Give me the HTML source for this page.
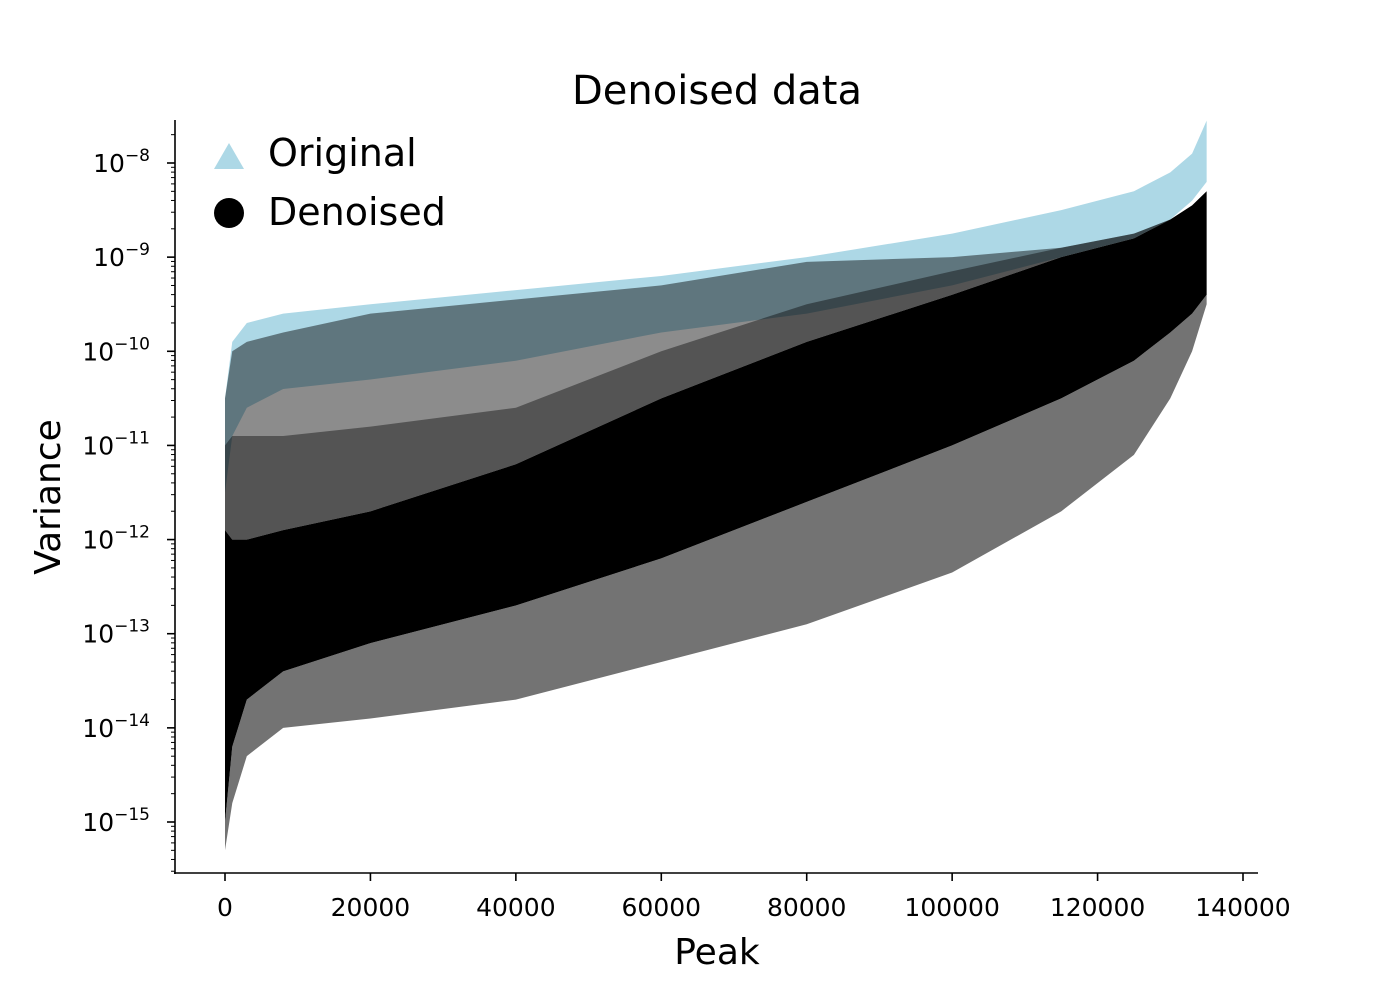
<!DOCTYPE html>
<html><head><meta charset="utf-8"><style>
body{margin:0;background:#fff}
svg{display:block;font-family:"DejaVu Sans","Liberation Sans",sans-serif}
</style></head><body>
<svg id="chart" width="1400" height="1000" viewBox="0 0 1400 1000">
<rect width="1400" height="1000" fill="#fff"/>
<g id="plot"></g>
<g id="axes"></g>
<text x="717" y="104" font-size="40" text-anchor="middle">Denoised data</text>
<text x="717" y="964" font-size="36" text-anchor="middle">Peak</text>
<text x="0" y="0" font-size="36" text-anchor="middle" transform="translate(60,497) rotate(-90)">Variance</text>
<g>
<polygon points="214,169 244,169 229,143" fill="#add8e6"/>
<text x="268" y="166" font-size="38">Original</text>
<circle cx="229" cy="213" r="15" fill="#000"/>
<text x="268" y="225" font-size="38">Denoised</text>
</g>
</svg>
<script>
const peaks=[0,1000,3000,8000,20000,40000,60000,80000,100000,115000,125000,130000,133000,135000];
const outerLo=[-15.3,-14.8,-14.3,-14.0,-13.9,-13.7,-13.3,-12.9,-12.35,-11.7,-11.1,-10.5,-10.0,-9.5];
const coreLo=[-15.0,-14.2,-13.7,-13.4,-13.1,-12.7,-12.2,-11.6,-11.0,-10.5,-10.1,-9.8,-9.6,-9.4];
const coreHi=[-11.9,-12.0,-12.0,-11.9,-11.7,-11.2,-10.5,-9.9,-9.4,-9.0,-8.8,-8.6,-8.45,-8.3];
const midHi=[-11.0,-10.9,-10.9,-10.9,-10.8,-10.6,-10.0,-9.5,-9.15,-8.9,-8.75,-8.6,-8.45,-8.3];
const upperHi=[-10.5,-10.0,-9.9,-9.8,-9.6,-9.45,-9.3,-9.05,-9.0,-8.9,-8.75,-8.6,-8.45,-8.3];
const blueLo=[-11.5,-10.9,-10.6,-10.4,-10.3,-10.1,-9.8,-9.6,-9.3,-9.0,-8.8,-8.6,-8.4,-8.2];
const blueHi=[-10.5,-9.9,-9.7,-9.6,-9.5,-9.35,-9.2,-9.0,-8.75,-8.5,-8.3,-8.1,-7.9,-7.55];
const xTicks=[0,20000,40000,60000,80000,100000,120000,140000];
const yTickExps=[-8,-9,-10,-11,-12,-13,-14,-15];

const NS='http://www.w3.org/2000/svg';
const xS=v=>225+v*(1243-225)/140000;
const yS=e=>163+(-8-e)*(822-163)/7;
const plot=document.getElementById('plot'),axes=document.getElementById('axes');
function band(lo,hi,fill,op,name){
  let pts=peaks.map((p,i)=>xS(p)+','+yS(hi[i]));
  for(let i=peaks.length-1;i>=0;i--)pts.push(xS(peaks[i])+','+yS(lo[i]));
  const pg=document.createElementNS(NS,'polygon');
  pg.setAttribute('points',pts.join(' '));
  pg.setAttribute('fill',fill);pg.setAttribute('fill-opacity',op);
  pg.setAttribute('stroke-linejoin','round');
  
  
  plot.appendChild(pg);
}
band(blueLo,blueHi,'#add8e6',1,'original-band');
band(outerLo,coreLo,'#000',0.55,'denoised-lower-band');
band(coreHi,upperHi,'#000',0.45,'denoised-upper-band');
band(coreHi,midHi,'#000',0.4,'denoised-streak-band');
band(coreLo,coreHi,'#000',1,'denoised-core-band');

function line(x1,y1,x2,y2,w,name){const l=document.createElementNS(NS,'line');
  l.setAttribute('x1',x1);l.setAttribute('y1',y1);l.setAttribute('x2',x2);l.setAttribute('y2',y2);
  l.setAttribute('stroke','#000');l.setAttribute('stroke-width',w);
  
  
  axes.appendChild(l);}
line(175,120,175,874,1.6,'y-axis-line');
line(174,873,1258,873,1.6,'x-axis-line');
xTicks.forEach(v=>{const x=xS(v);line(x,873,x,881,1.6,'x-tick');
  const t=document.createElementNS(NS,'text');t.setAttribute('x',x);t.setAttribute('y',916);
  t.setAttribute('font-size','25');t.setAttribute('text-anchor','middle');t.textContent=v;
  
  
  axes.appendChild(t);});
yTickExps.forEach(e=>{const y=yS(e);line(167,y,175,y,1.6,'y-tick');
  for(let k=2;k<10;k++){const ym=yS(e-1+Math.log10(k));if(ym>120&&ym<873)line(171,ym,175,ym,1,'y-minor-tick');}
  const t=document.createElementNS(NS,'text');t.setAttribute('x',150);t.setAttribute('y',y+9);
  t.setAttribute('font-size','25');t.setAttribute('text-anchor','end');
  t.innerHTML='10<tspan font-size="17" dy="-11">\u2212'+(-e)+'</tspan>';
  
  
  axes.appendChild(t);});
for(let k=2;k<10;k++){const ym=yS(-8+Math.log10(k));if(ym>120)line(171,ym,175,ym,1,'y-minor-tick');}
</script>
</body></html>
